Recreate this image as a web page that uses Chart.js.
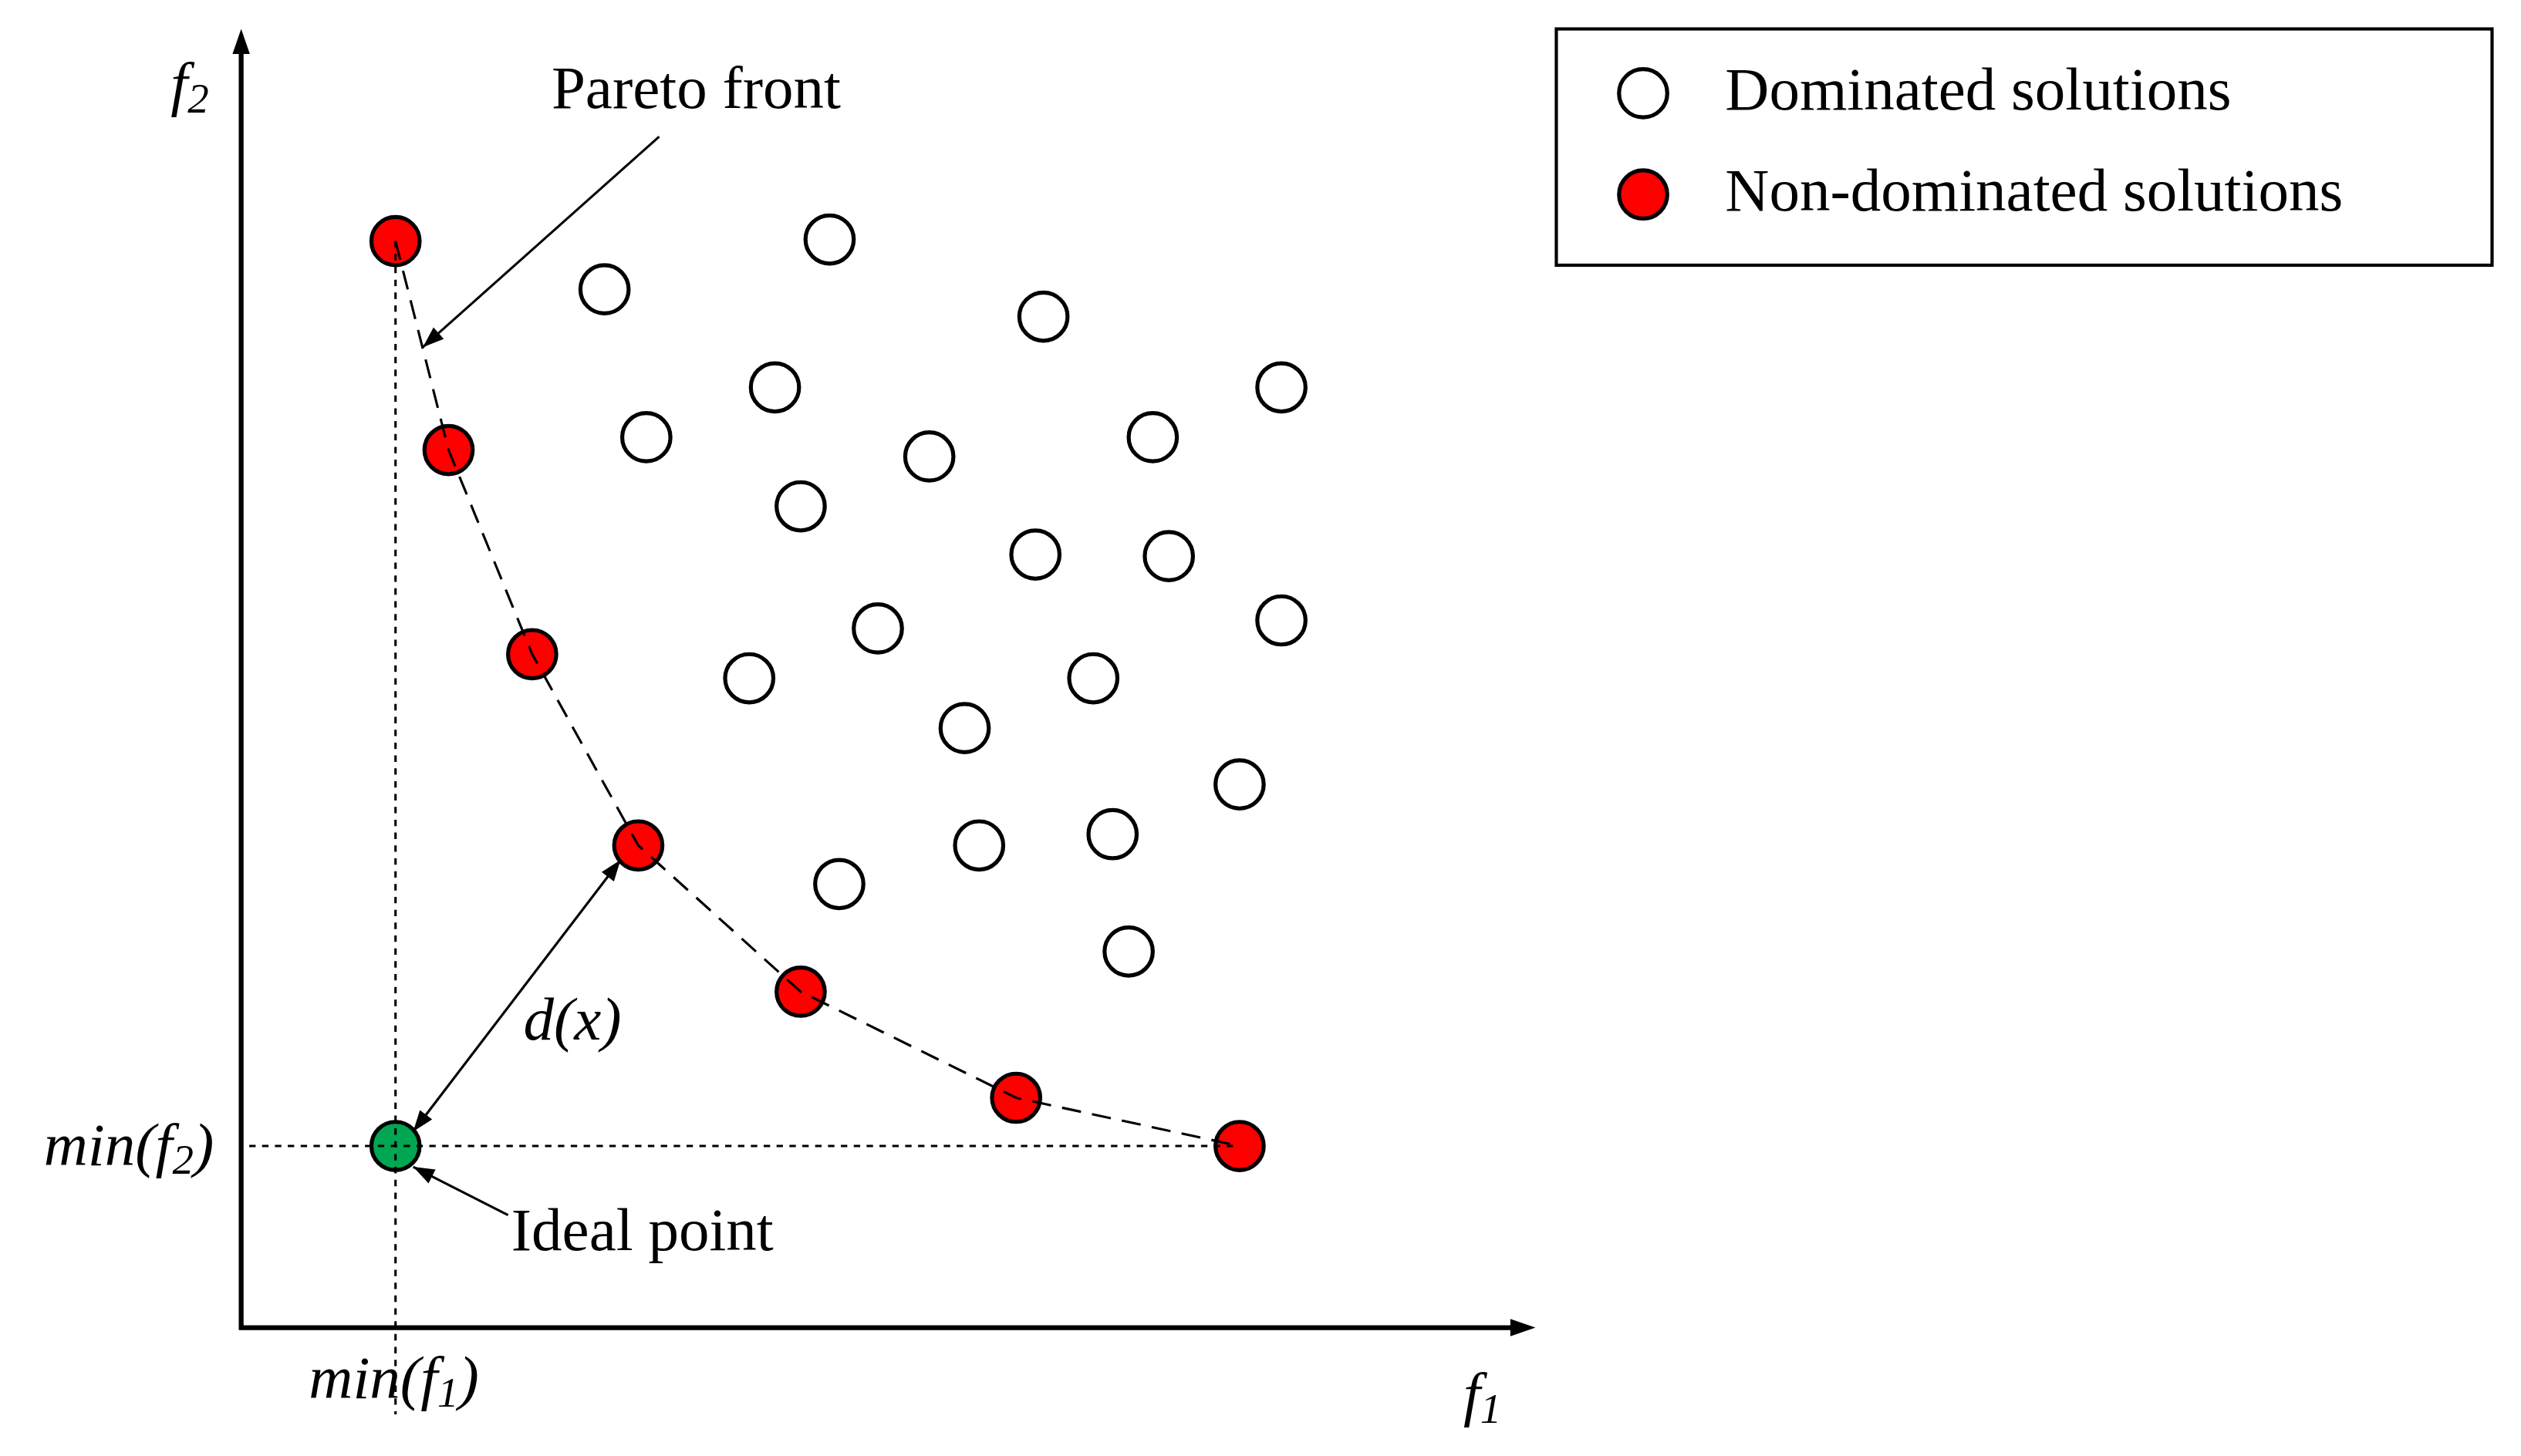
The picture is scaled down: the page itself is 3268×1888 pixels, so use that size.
<!DOCTYPE html>
<html>
<head>
<meta charset="utf-8">
<script src="https://cdn.jsdelivr.net/npm/chart.js@4/dist/chart.umd.min.js"></script>
<style>
  html, body { margin: 0; padding: 0; background: #fff; }
  #wrap { width: 3268px; height: 1888px; }
</style>
</head>
<body>
<div id="wrap"><canvas id="grafico"></canvas></div>
<script>
// valores (unidades arbitrárias)
const naoDominadosX = [96, 129, 181, 247, 348, 482, 621];
const naoDominadosY = [676, 546, 419, 300, 209, 143, 113];
const dominadosX = [366, 226, 499, 332, 647, 252, 428, 567, 348, 494, 577, 647, 396, 316, 530, 450, 621, 459, 542, 372, 552];
const dominadosY = [677, 646, 629, 585, 585, 554, 542, 554, 511, 481, 480, 440, 435, 404, 404, 373, 338, 300, 307, 276, 234];
const pontoIdeal = [96, 113];
const legendas = ["Dominated solutions", "Non-dominated solutions"];

const S = 3268 / 1568;
const FONTE = "Liberation Serif";
const TAM = Math.round(38 * S);

const pares = (xs, ys) => xs.map((x, i) => ({ x, y: ys[i] }));
const minX = Math.min(...naoDominadosX);
const minY = Math.min(...naoDominadosY);

function seta(ctx, x1, y1, x2, y2, dupla) {
    const tam = 14 * S, ang = Math.atan2(y2 - y1, x2 - x1);
    ctx.beginPath();
    ctx.moveTo(x1, y1);
    ctx.lineTo(x2, y2);
    ctx.stroke();
    const ponta = (x, y, a) => {
        ctx.beginPath();
        ctx.moveTo(x, y);
        ctx.lineTo(x - tam * Math.cos(a - 0.35), y - tam * Math.sin(a - 0.35));
        ctx.lineTo(x - tam * Math.cos(a + 0.35), y - tam * Math.sin(a + 0.35));
        ctx.closePath();
        ctx.fill();
    };
    ponta(x2, y2, ang);
    if (dupla) ponta(x1, y1, ang + Math.PI);
}

function texto(ctx, partes, x, y, alinhar) {
    // partes: [texto, italico, subscrito]
    const fonte = (p) => `${p[1] ? "italic " : ""}${p[2] ? Math.round(TAM * 0.7) : TAM}px ${FONTE}`;
    let largura = 0;
    partes.forEach((p) => { ctx.font = fonte(p); largura += ctx.measureText(p[0]).width; });
    let cx = alinhar === "center" ? x - largura / 2 : alinhar === "right" ? x - largura : x;
    ctx.textAlign = "left";
    ctx.textBaseline = "middle";
    partes.forEach((p) => {
        ctx.font = fonte(p);
        ctx.fillText(p[0], cx, y + (p[2] ? TAM * 0.22 : 0));
        cx += ctx.measureText(p[0]).width;
    });
}

const desenhos = {
    id: "desenhos",
    afterDraw(chart) {
        const ctx = chart.ctx, a = chart.chartArea;
        const X = (v) => chart.scales.x.getPixelForValue(v);
        const Y = (v) => chart.scales.y.getPixelForValue(v);
        // coordenadas da figura original (px) -> canvas
        const px = (v) => X(v - 150), py = (v) => Y(826 - v);
        ctx.save();
        ctx.strokeStyle = "#000";
        ctx.fillStyle = "#000";
        // eixos
        ctx.lineWidth = 3 * S;
        ctx.beginPath();
        ctx.moveTo(a.left, a.top + 10 * S);
        ctx.lineTo(a.left, a.bottom);
        ctx.lineTo(a.right - 10 * S, a.bottom);
        ctx.stroke();
        const t = 12 * S;
        ctx.beginPath();
        ctx.moveTo(a.left, a.top); ctx.lineTo(a.left - t * 0.45, a.top + t * 1.3); ctx.lineTo(a.left + t * 0.45, a.top + t * 1.3); ctx.closePath(); ctx.fill();
        ctx.beginPath();
        ctx.moveTo(a.right, a.bottom); ctx.lineTo(a.right - t * 1.3, a.bottom - t * 0.45); ctx.lineTo(a.right - t * 1.3, a.bottom + t * 0.45); ctx.closePath(); ctx.fill();
        // setas de anotação
        ctx.lineWidth = 1.5 * S;
        seta(ctx, px(410), py(85), px(263), py(216), false);
        seta(ctx, px(386), py(535), px(257), py(704), true);
        seta(ctx, px(316), py(756), px(257), py(726), false);
        // textos
        texto(ctx, [["Pareto front", false, false]], px(433), py(57), "center");
        texto(ctx, [["d(x)", true, false]], px(356), py(637), "center");
        texto(ctx, [["Ideal point", false, false]], px(318), py(768), "left");
        texto(ctx, [["f", true, false], ["2", true, true]], px(118), py(55), "center");
        texto(ctx, [["f", true, false], ["1", true, true]], px(922), py(870), "center");
        texto(ctx, [["min(f", true, false], ["2", true, true], [")", true, false]], px(133), py(715), "right");
        texto(ctx, [["min(f", true, false], ["1", true, true], [")", true, false]], px(245), py(860), "center");
        // legenda
        ctx.lineWidth = 2 * S;
        ctx.strokeRect(px(968), py(18), 582 * S, 147 * S);
        const cores = ["#ffffff", "#ff0000"];
        legendas.forEach((txt, i) => {
            const yy = py(58 + i * 63);
            ctx.beginPath();
            ctx.arc(px(1022), yy, 15 * S, 0, Math.PI * 2);
            ctx.fillStyle = cores[i];
            ctx.fill();
            ctx.lineWidth = 2.5 * S;
            ctx.stroke();
            ctx.fillStyle = "#000";
            texto(ctx, [[txt, false, false]], px(1073), yy, "left");
        });
        ctx.restore();
    }
};

const raio = 15 * S;

new Chart(document.getElementById("grafico"), {
    type: "scatter",
    data: {
        datasets: [
            {
                label: "guia vertical",
                data: [{ x: minX, y: Math.max(...naoDominadosY) }, { x: minX, y: -54 }],
                showLine: true, borderColor: "#000", borderWidth: 1.5 * S, borderDash: [4 * S, 4 * S],
                pointRadius: 0, clip: false
            },
            {
                label: "guia horizontal",
                data: [{ x: 5, y: minY }, { x: Math.max(...naoDominadosX), y: minY }],
                showLine: true, borderColor: "#000", borderWidth: 1.5 * S, borderDash: [4 * S, 4 * S],
                pointRadius: 0, clip: false
            },
            {
                label: "Pareto front",
                data: pares(naoDominadosX, naoDominadosY),
                showLine: true, borderColor: "#000", borderWidth: 1.5 * S, borderDash: [12 * S, 7 * S],
                pointRadius: 0
            },
            {
                label: legendas[0],
                data: pares(dominadosX, dominadosY),
                backgroundColor: "#ffffff", borderColor: "#000", borderWidth: 2.5 * S, pointRadius: raio
            },
            {
                label: legendas[1],
                data: pares(naoDominadosX, naoDominadosY),
                backgroundColor: "#ff0000", borderColor: "#000", borderWidth: 2.5 * S, pointRadius: raio
            },
            {
                label: "Ideal point",
                data: [{ x: pontoIdeal[0], y: pontoIdeal[1] }],
                backgroundColor: "#00a651", borderColor: "#000", borderWidth: 2.5 * S, pointRadius: raio
            }
        ]
    },
    options: {
        responsive: true,
        maintainAspectRatio: false,
        animation: false,
        layout: {
            padding: { left: 150 * S, right: 3268 - 955 * S, top: 18 * S, bottom: 1888 - 826 * S }
        },
        scales: {
            x: { type: "linear", min: 0, max: 805, display: false },
            y: { type: "linear", min: 0, max: 808, display: false }
        },
        plugins: {
            legend: { display: false },
            tooltip: { enabled: false }
        }
    },
    plugins: [desenhos]
});
</script>
</body>
</html>
